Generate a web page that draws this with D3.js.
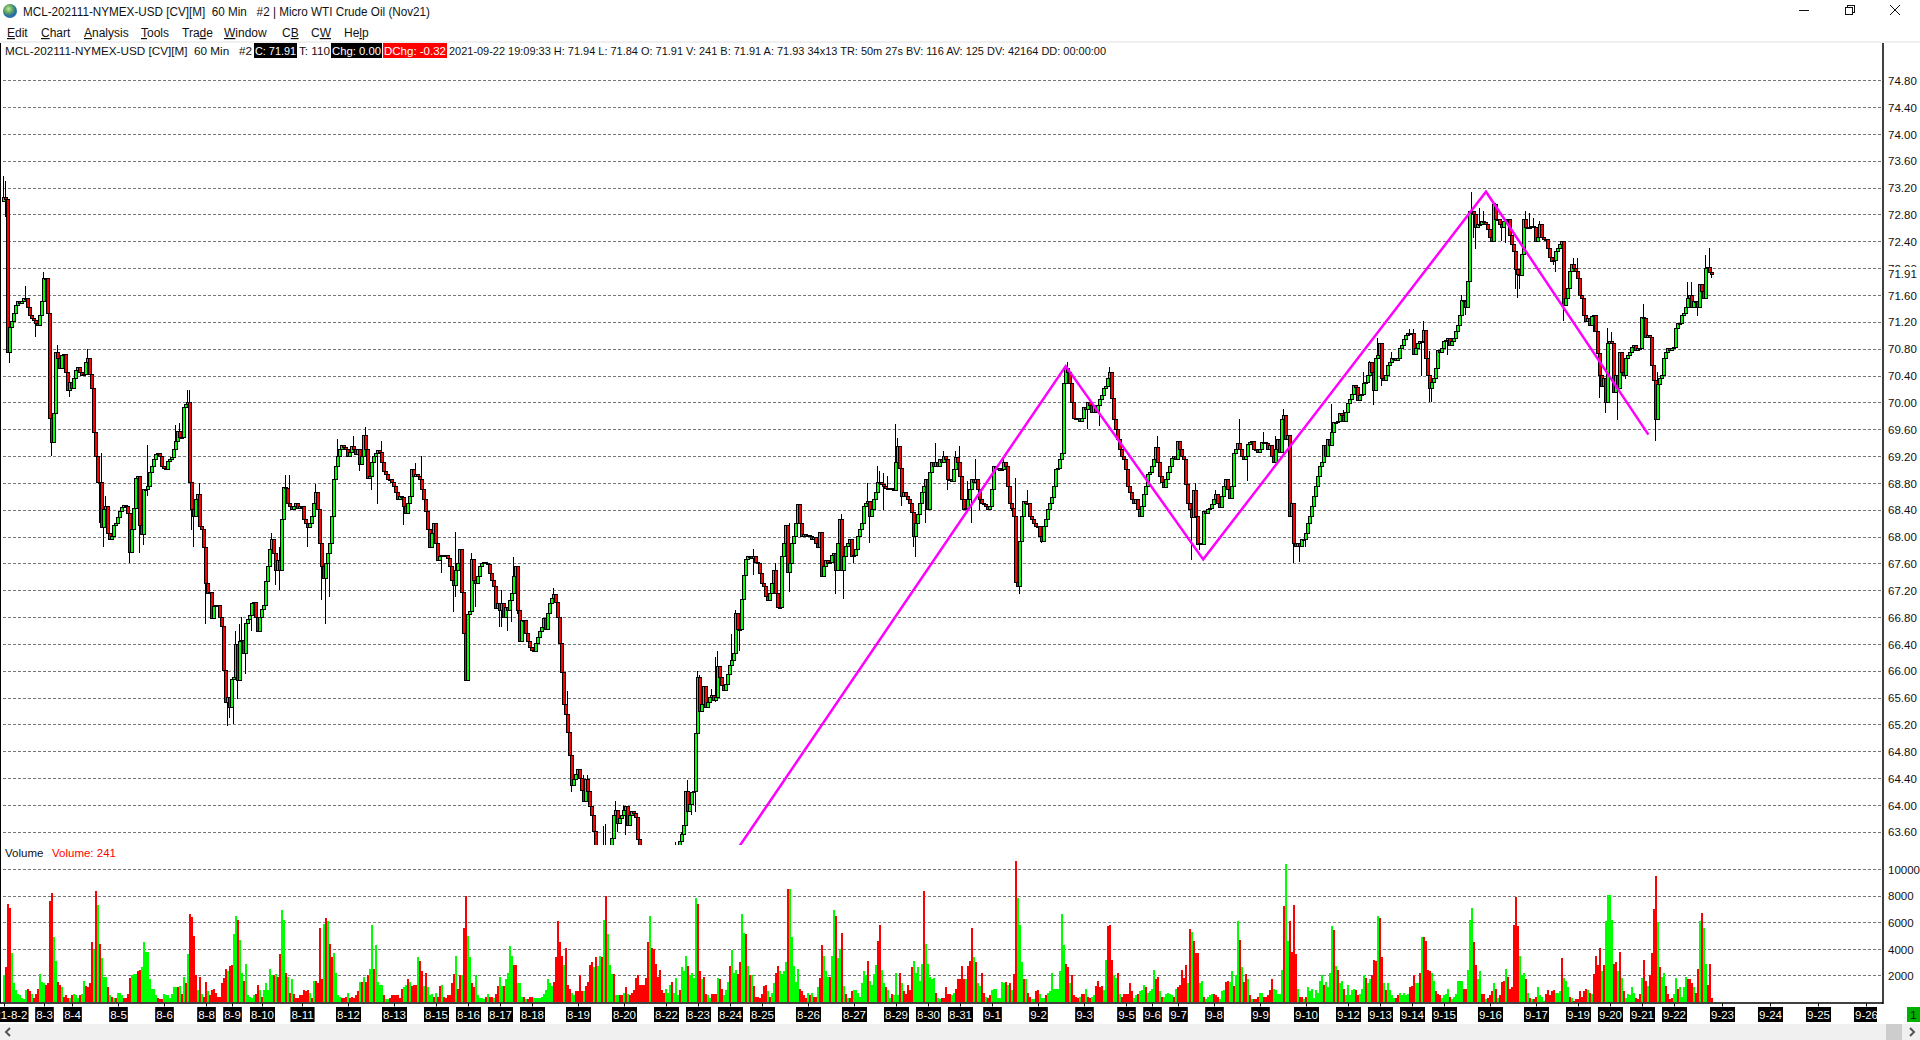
<!DOCTYPE html>
<html>
<head>
<meta charset="utf-8">
<script src="https://cdn.jsdelivr.net/npm/d3@7"></script>
<style>
html, body { margin: 0; padding: 0; background: #fff; overflow: hidden; }
svg { display: block; }
text { font-family: "Liberation Sans", sans-serif; font-size: 11.5px; fill: #111; }
</style>
</head>
<body>
<script>
// session start bar of each label on the time axis
var dayLabels = ["2021-8-2","8-3","8-4","8-5","8-6","8-8","8-9","8-10","8-11","8-12","8-13","8-15","8-16","8-17","8-18","8-19","8-20","8-22","8-23","8-24","8-25","8-26","8-27","8-29","8-30","8-31","9-1","9-2","9-3","9-5","9-6","9-7","9-8","9-9","9-10","9-12","9-13","9-14","9-15","9-16","9-17","9-19","9-20","9-21","9-22","9-23","9-24","9-25","9-26"];
var dayStart = [0,20,34,57,80,101,114,129,149,172,195,216,232,248,264,287,310,331,347,363,379,402,425,446,462,478,494,517,540,561,574,587,605,628,651,672,688,704,720,743,766,787,803,819,835,859,883,907,931];

var priceTicks = [74.8,74.4,74,73.6,73.2,72.8,72.4,72,71.6,71.2,70.8,70.4,70,69.6,69.2,68.8,68.4,68,67.6,67.2,66.8,66.4,66,65.6,65.2,64.8,64.4,64,63.6];
var volumeTicks = [10000,8000,6000,4000,2000];

// hourly closes, one list per label on the time axis
var closesByDay = [
[73.05,73.03,70.75,71.12,71.2,71.32,71.45,71.5,71.48,71.5,71.55,71.55,71.42,71.3,71.25,71.22,71.17,71.15,71.3,71.5],
[71.85,71.85,71.32,69.76,69.4,69.84,70.75,70.65,70.5,70.7,70.72,70.45,70.18,70.3],
[70.2,70.35,70.48,70.52,70.45,70.4,70.42,70.6,70.65,70.42,70.2,69.55,69.2,68.8,68.8,68.13,68.4,68.45,68.05,67.95,68.0,68.16,68.2],
[68.28,68.38,68.43,68.47,68.45,68.35,67.76,68.1,68.42,68.87,68.9,68.16,68.03,68.7,68.7,68.75,68.95,69.05,69.15,69.22,69.24,69.2,69.05],
[69.02,69.0,69.12,69.15,69.18,69.3,69.42,69.57,69.48,69.48,69.93,69.97,70.0,68.8,68.4,68.3,68.55,68.62,68.15,68.1,67.84],
[67.3,67.15,67.17,66.78,66.96,66.98,66.97,66.8,66.66,66.0,65.52,65.6,65.45],
[65.87,65.9,66.39,65.85,66.44,66.45,66.26,66.71,66.76,66.82,67.0,67.02,66.8,66.59,66.8],
[66.92,66.98,67.33,67.55,67.8,67.96,67.75,67.5,67.65,67.5,68.26,68.73,68.72,68.5,68.45,68.4,68.45,68.5,68.42,68.45],
[68.45,68.26,68.2,68.13,68.2,68.3,68.5,68.65,68.4,67.9,67.55,67.37,67.6,67.75,67.9,68.3,68.85,69.05,69.2,69.3,69.35,69.33,69.3],
[69.2,69.25,69.34,69.3,69.22,69.3,69.07,69.2,69.5,69.3,68.87,68.9,69.1,69.2,69.24,69.28,69.25,69.1,68.97,68.92,68.85,68.85,68.8],
[68.75,68.65,68.55,68.6,68.58,68.45,68.35,68.5,68.6,69.0,68.9,68.92,68.9,68.85,68.7,68.55,68.38,68.1,67.84,68.05,68.2],
[67.9,67.65,67.7,67.72,67.7,67.72,67.68,67.55,67.35,67.27,67.5,67.6,67.8,67.17,66.56,65.85],
[66.84,66.88,67.66,67.35,67.3,67.4,67.55,67.6,67.62,67.6,67.58,67.45,67.35,67.25,66.93,67.0],
[66.9,67.0,66.8,66.95,66.9,67.05,67.15,67.4,67.56,66.9,66.44,66.75,66.75,66.56,66.44,66.34],
[66.3,66.29,66.4,66.5,66.58,66.65,66.78,66.62,66.85,67.0,67.08,67.13,67.02,66.8,66.41,65.97,65.5,65.35,65.08,64.73,64.29,64.38,64.45],
[64.53,64.4,64.22,64.05,64.38,64.2,63.97,63.85,63.6,63.4,63.2,63.1,63.05,63.1,63.15,63.2,63.25,63.5,63.85,63.92,63.72,63.8,63.85],
[63.92,63.97,63.7,63.85,63.9,63.88,63.82,63.48,63.35,63.2,63.1,63.0,62.9,62.95,62.85,62.8,62.9,62.85,62.9,62.85,62.9],
[62.95,63.0,62.9,63.0,63.05,63.2,63.3,63.45,63.56,63.7,64.2,63.9,64.0,64.18,64.2,65.06],
[65.9,65.4,65.5,65.77,65.45,65.53,65.6,65.63,65.55,65.6,66.06,65.9,65.78,65.7,65.8,65.95],
[66.08,66.15,66.26,66.86,66.61,66.61,67.06,67.42,67.66,67.7,67.7,67.68,67.7,67.62,67.6,67.45],
[67.3,67.25,67.1,67.05,67.15,67.3,67.5,67.15,66.95,66.95,67.7,67.9,68.16,67.47,67.6,67.9,68.0,68.2,68.48,68.2,68.0,68.03,68.0],
[68.02,68.0,67.95,67.98,67.9,67.84,68.06,67.4,67.55,67.65,67.6,67.62,67.72,67.75,67.5,67.9,68.26,67.5,67.7,67.85,67.9,67.95,67.7],
[67.72,67.8,68.0,68.1,68.2,68.45,68.5,68.52,68.3,68.4,68.55,68.65,68.8,68.8,68.78,68.75,68.72,68.7,68.72,68.7,68.68],
[69.1,69.34,69.02,68.6,68.65,68.6,68.55,68.5,68.36,68.0,68.2,68.33,68.5,68.65,68.75,68.85],
[68.4,68.95,69.1,69.05,69.1,69.05,69.15,69.1,69.2,69.15,68.85,68.85,68.82,69.0,69.18,69.1],
[68.9,68.55,68.4,68.42,68.55,68.7,68.85,68.8,68.85,68.7,68.55,68.5,68.48,68.45,68.4,68.45],
[68.7,69.05,69.0,69.02,68.98,69.0,69.1,69.05,68.75,68.5,68.42,68.3,67.32,67.25,67.93,68.3,68.53,68.5,68.5,68.3,68.25,68.2,68.15],
[68.15,68.0,67.93,68.15,68.25,68.4,68.5,68.58,68.75,69.0,69.02,69.15,69.24,70.28,70.5,70.45,70.28,70.0,69.76,69.75,69.76,69.72,69.76],
[69.93,69.9,70.0,69.95,69.85,69.95,69.85,69.95,70.05,70.1,70.2,70.23,70.35,70.45,70.06,69.74,69.6,69.44,69.3,69.2,69.15],
[69.0,68.75,68.65,68.55,68.5,68.55,68.4,68.3,68.45,68.63,68.75,68.93,68.95],
[69.05,69.15,69.32,69.1,68.9,68.8,68.73,68.85,68.95,69.05,69.17,69.2,69.15],
[69.42,69.3,69.2,69.15,68.78,68.5,68.4,68.28,68.68,68.3,67.88,67.9,67.88,68.38,68.35,68.4,68.42,68.48],
[68.55,68.63,68.5,68.43,68.6,68.75,68.85,68.7,68.57,68.75,69.24,69.3,69.39,69.3,69.2,69.15,69.2,69.37,69.4,69.42,69.3,69.3,69.25],
[69.3,69.4,69.4,69.38,69.3,69.35,69.2,69.1,69.3,69.44,69.25,69.74,69.8,69.45,69.5,68.3,68.5,67.9,67.85,67.9,67.85,67.95,67.95],
[68.05,68.2,68.3,68.45,68.6,68.75,68.9,69.05,69.1,69.35,69.2,69.45,69.35,69.55,69.7,69.7,69.72,69.84,69.8,69.72,69.85],
[69.98,70.05,70.12,70.25,70.22,70.03,70.1,70.12,70.28,70.3,70.4,70.6,70.45,70.18,70.65,70.7],
[70.87,70.35,70.33,70.4,70.55,70.6,70.65,70.65,70.62,70.65,70.8,70.85,70.93,71.0,71.03,71.02],
[71.02,70.72,70.8,70.87,70.9,70.9,71.07,70.65,70.4,70.2,70.3,70.35,70.5,70.77,70.75,70.8],
[70.9,70.92,70.95,70.85,70.9,70.95,71.05,71.15,71.3,71.52,71.5,71.42,71.8,72.85,72.85,72.8,72.6,72.65,72.65,72.7,72.68,72.65,72.58],
[72.45,72.4,72.95,72.73,72.72,72.65,72.6,72.7,72.72,72.72,72.48,72.35,72.25,71.98,71.9,71.89,72.2,72.73,72.6,72.6,72.6,72.62,72.6],
[72.4,72.45,72.65,72.45,72.42,72.42,72.3,72.16,72.1,72.12,72.25,72.3,72.35,72.4,71.44,71.55,71.7,71.95,72.06,72.0,71.95],
[71.85,71.6,71.55,71.3,71.2,71.25,71.15,71.28,71.3,71.05,70.73,70.4,70.23,70.35,70.0,70.87],
[70.9,70.88,70.15,70.4,70.2,70.74,70.45,70.4,70.65,70.7,70.75,70.82,70.85,70.78,70.8,70.8],
[71.26,71.25,70.97,71.0,70.97,70.55,70.33,69.74,70.26,70.35,70.4,70.65,70.75,70.8,70.78,70.8],
[70.82,71.1,71.17,71.18,71.3,71.32,71.42,71.55,71.6,71.42,71.5,71.5,71.42,71.75,71.65,71.55,72.0,72.01,71.93,71.91]
];

// volume in hundreds, one list per label; negative = red bar, positive = green bar
var volumeByDay = [
[20,-26,-74,-71,37,14,9,6,5,3,2,9,-10,-8,6,-3,-6,-10,21,15],
[14,-13,-14,-76,-82,49,31,-15,-13,11,-4,-5,-3,3],
[-5,6,5,3,-5,6,16,-12,-11,-14,-45,39,-84,73,-44,33,19,19,-11,5,-4,3,-3],
[7,7,5,-3,-3,-6,-18,20,21,21,-23,-24,26,45,38,38,17,10,10,5,-3,-2,-2],
[6,5,5,3,6,11,11,-11,12,-6,19,-14,36,-66,-64,-50,-20,9,-19,6,-4],
[-15,8,-5,-9,-10,-7,-4,-4,-14,-18,-25,23,-27],
[-28,51,65,-62,47,22,-16,29,5,4,3,5,-6,-13,9],
[-4,9,14,9,25,20,-20,21,-19,-36,69,62,-22,19,-7,17,-6,-3,-3,-5],
[-5,-9,-8,-9,7,-3,16,-16,-14,-56,-17,59,-63,61,-44,-34,37,22,5,4,-3,-3,-4],
[7,-3,-4,-3,-5,-8,15,-15,19,-15,-20,25,58,-25,43,15,13,13,-5,2,2,-3,-5],
[-5,-5,-5,-3,-10,11,13,-17,15,-12,-13,-13,34,-31,-23,12,-22,11,5,6,-4],
[7,-4,-12,13,-4,-3,-5,-5,-14,-21,35,-10,-20,20,-56,-80],
[50,34,-14,-11,20,5,3,3,2,-4,6,-4,-4,3,-6,-12],
[19,12,-12,17,22,42,35,-28,-28,14,14,4,-4,2,-2,-4],
[-4,3,3,3,3,4,6,9,17,14,12,-15,-34,-61,-45,-35,28,-41,-13,-10,7,5,-8],
[-8,-20,-8,8,-12,-15,-28,-30,26,-34,27,35,-34,62,-80,51,28,21,-21,5,5,-5,-5],
[7,-11,6,-5,-7,-9,-18,-20,-13,-13,-13,-18,-45,65,-41,-40,-29,-19,-24,-9,-7],
[10,7,13,-15,7,18,5,-9,26,23,35,-27,20,22,18,78],
[-74,-23,17,-19,-6,5,3,-6,-6,-6,18,-17,-10,5,9,15],
[-27,39,22,24,-21,-30,66,52,-51,27,-20,20,-12,-4,-4,-3],
[-6,-12,-13,8,-4,7,14,-22,-27,23,21,23,30,-85,85,49,27,15,25,-10,-8,-5,-3],
[7,-5,7,-4,-4,11,-18,-43,35,23,19,-19,35,69,-65,33,40,-52,12,-6,3,-3,-8],
[9,9,7,4,14,23,20,-31,16,13,21,28,-46,-58,24,14,-11,9,3,-6,5],
[22,5,-22,14,-8,-6,-13,-9,-26,31,22,26,16,29,-84,44],
[29,19,17,18,-7,3,2,-3,-3,-11,-6,-6,5,7,-10,-17],
[-17,-27,-17,17,-27,-31,-56,34,-30,14,12,-22,-7,4,-3,-5],
[9,10,10,3,3,15,14,-15,13,-14,9,-21,-106,78,58,30,-17,17,-7,-4,2,2,-8],
[-9,6,3,3,-5,7,8,22,10,10,10,23,66,43,-29,-26,14,-20,-5,-4,-3,4,-6],
[-6,10,-4,-3,4,5,-12,-16,-11,-12,9,32,-57,-58,-32,20,18,-22,6,-4,-6],
[-6,-6,-14,-8,3,5,-6,8,9,13,-11,7,8],
[10,24,-17,-19,8,-4,4,6,7,6,5,-4,10],
[-11,-13,-24,-18,-28,14,-55,53,-46,-37,-37,14,16,-4,2,4,5,6],
[-6,-5,-4,2,8,9,-15,-16,15,23,-12,20,61,-47,26,-15,-21,17,-5,2,-2,-2,-4],
[7,7,-4,-4,-5,-9,-17,10,9,6,6,24,-72,104,46,-61,-38,-73,-36,10,-4,-4,2],
[-4,11,8,10,3,9,7,16,20,-13,15,11,22,57,-54,27,-24,14,16,-10,5],
[13,5,9,10,-9,-5,6,10,20,-18,14,17,-20,-32,-31,65],
[-63,-34,14,-9,14,9,5,3,-3,-5,7,5,7,5,6,-11],
[-12,-20,14,14,-22,49,-49,-46,-24,-23,22,16,-8,-6,-5,3],
[5,6,10,-4,2,4,6,16,16,16,-10,-10,24,62,71,-45,-28,17,23,-6,-6,2,-3],
[-5,-8,14,-10,3,-5,-15,-16,25,-19,-10,-11,-58,-79,-57,35,20,22,-17,7,-3,2,-2],
[-4,11,5,4,1,-6,-9,-5,-8,-9,7,7,8,-33,18,16,11,-4,3,-1,-2],
[-2,-8,-4,-8,-10,9,-7,6,-21,-35,-28,-41,23,-28,61,81],
[81,62,-29,-30,23,-38,18,-8,3,6,5,11,7,-3,-2,-6],
[18,-32,-16,12,-20,-37,-70,-95,60,-26,19,22,-12,-6,-2,-3],
[6,18,-10,11,4,11,19,-17,-17,-14,11,-7,-25,61,-67,56,29,-13,-29,-3]
];

var highBars = [0,1,11,20,27,42,47,49,51,72,86,88,92,93,98,116,118,119,127,134,138,141,143,156,167,175,181,189,206,209,226,234,249,255,259,270,273,275,282,285,290,292,300,301,304,306,310,313,336,338,339,342,347,348,354,356,357,364,366,375,386,393,416,419,422,432,437,438,440,442,446,447,466,470,476,478,482,486,487,500,506,512,532,553,577,585,596,606,618,630,636,640,664,670,675,680,683,687,694,703,705,710,713,729,734,738,740,746,761,763,765,768,785,787,802,804,820,827,842,844,851,853,854];
var highVals = [73.37,73.3,71.73,71.95,70.85,70.8,69.37,69.25,68.6,69.37,69.66,69.7,70.18,70.18,68.8,66.6,66.7,66.8,66.9,68.06,67.85,68.92,68.92,68.78,69.45,69.5,69.64,69.42,69.1,69.2,68.07,67.75,67.2,67.7,66.77,66.75,67.0,67.23,65.7,64.6,64.45,64.45,63.69,63.71,63.45,64.06,64.0,63.95,63.45,63.45,63.6,64.37,66.0,65.93,65.73,66.2,66.3,66.55,66.9,67.82,67.6,68.2,67.75,68.33,67.85,68.8,69.05,68.97,68.95,68.9,69.68,69.47,69.4,69.27,69.27,69.35,68.83,69.15,68.85,69.17,68.87,68.7,70.6,70.53,69.5,69.2,68.8,68.7,69.75,69.56,69.5,69.9,69.97,69.88,70.2,70.45,70.62,70.96,70.75,71.1,71.1,71.22,70.77,71.6,73.13,72.9,72.85,72.97,72.85,72.82,72.75,72.7,72.15,72.15,71.11,71.05,71.47,70.45,71.8,71.8,72.2,72.3,71.95];
var lowBars = [1,3,16,24,33,48,50,63,68,70,72,94,95,101,112,113,115,117,121,124,136,138,152,159,161,163,178,184,187,200,219,225,226,236,248,249,252,254,257,284,307,311,344,346,356,358,361,367,368,375,393,416,420,425,433,440,446,449,455,456,461,472,484,488,504,508,519,542,548,594,598,600,622,645,648,651,685,689,709,713,714,722,731,735,736,749,751,756,757,758,775,776,780,795,798,801,807,811,826,847,854];
var lowVals = [72.76,70.59,70.98,69.2,70.08,68.2,67.85,67.6,67.76,67.88,68.6,68.1,67.84,66.7,65.18,65.3,65.2,65.58,65.95,66.6,67.28,67.2,67.85,67.05,66.7,67.1,68.98,68.7,68.48,68.17,67.45,66.88,67.1,66.95,66.65,66.65,66.6,66.72,66.85,64.2,63.6,63.55,63.85,63.9,65.53,65.65,65.7,66.3,66.3,67.42,67.17,67.15,67.07,67.6,67.9,68.4,68.92,68.45,67.85,67.7,68.2,68.7,68.2,68.4,68.38,67.15,67.9,69.6,69.65,67.65,67.8,67.97,68.83,67.6,67.62,67.85,69.96,70.25,70.4,70.0,70.0,70.7,71.3,72.45,72.28,72.4,72.38,71.69,71.56,71.69,72.05,71.95,71.22,71.05,70.06,69.84,69.73,70.35,69.42,71.28,71.85];

// magenta zigzag drawn on the chart: bar number and price of each corner
var zigzagBars = [340,530.85,599.6,741,822.2];
var zigzagPrices = [62.17,70.54,67.66,73.14,69.52];

var menuItems = ["Edit","Chart","Analysis","Tools","Trade","Window","CB","CW","Help"];
var menuKeys = [0,0,0,0,3,0,1,1,2];   // underlined letter
var menuLeft = [7,41,84,141,182,224,282,311,344];

var width = 1920;
var height = 1040;
var axisX = 1883;

var svg = d3.select("body").append("svg").attr("width", width).attr("height", height);

// scales
var x = d3.scaleLinear().domain([0, 931]).range([4, 1866]);
var yPrice = d3.scaleLinear().domain([63.6, 74.8]).range([831.8, 80.3]);
var yVolume = d3.scaleLinear().domain([0, 10000]).range([1002, 869.3]);

// flatten lists into bars, each placed from the start of its label
var highOf = {}, lowOf = {};
highBars.forEach(function (b, k) { highOf[b] = highVals[k]; });
lowBars.forEach(function (b, k) { lowOf[b] = lowVals[k]; });

var bars = [], volumes = [];
var prev = 73.0;
closesByDay.forEach(function (list, d) {
    list.forEach(function (c, j) {
        var i = dayStart[d] + j;
        var high = Math.max(prev, c, highOf[i] || 0);
        var low = Math.min(prev, c, lowOf[i] || 999);
        bars.push({ i: i, open: prev, close: c, high: high, low: low });
        prev = c;
    });
});
volumeByDay.forEach(function (list, d) {
    list.forEach(function (v, j) {
        volumes.push({ i: dayStart[d] + j, v: Math.abs(v) * 100, up: v > 0 });
    });
});

// clip for the price pane, price runs off the bottom of it
svg.append("defs").append("clipPath").attr("id", "pricePane")
    .append("rect").attr("x", 0).attr("y", 44).attr("width", axisX).attr("height", 801);
svg.append("defs").append("clipPath").attr("id", "timePane")
    .append("rect").attr("x", 0).attr("y", 1003).attr("width", axisX - 6).attr("height", 21);

// axes with their dashed grid
var priceAxis = d3.axisRight(yPrice).tickValues(priceTicks).tickSize(0).tickPadding(5).tickFormat(d3.format(".2f"));
var volumeAxis = d3.axisRight(yVolume).tickValues(volumeTicks).tickSize(0).tickPadding(5).tickFormat(d3.format("d"));

function addAxis(axis, ticks, scale) {
    var g = svg.append("g").attr("transform", "translate(" + axisX + ",0)").call(axis);
    g.select(".domain").remove();
    g.selectAll("text").attr("dy", "0.36em").style("font-family", null).style("font-size", null);
    svg.insert("g", ":first-child").attr("shape-rendering", "crispEdges").selectAll("line").data(ticks).join("line")
        .attr("x1", 3).attr("x2", axisX)
        .attr("y1", function (d) { return Math.round(scale(d)) + 0.5; })
        .attr("y2", function (d) { return Math.round(scale(d)) + 0.5; })
        .attr("stroke", "#777").attr("stroke-dasharray", "3,2");
    return g;
}
var priceG = addAxis(priceAxis, priceTicks, yPrice);
addAxis(volumeAxis, volumeTicks, yVolume);

// candles
var candleG = svg.append("g").attr("clip-path", "url(#pricePane)").attr("shape-rendering", "crispEdges");
var candle = candleG.selectAll("g").data(bars).join("g");
candle.append("line")
    .attr("x1", function (d) { return Math.round(x(d.i)) - 0.5; })
    .attr("x2", function (d) { return Math.round(x(d.i)) - 0.5; })
    .attr("y1", function (d) { return yPrice(d.high); })
    .attr("y2", function (d) { return yPrice(d.low); })
    .attr("stroke", "#000");
candle.append("rect")
    .attr("x", function (d) { return Math.round(x(d.i)) - 1.5; })
    .attr("width", 3)
    .attr("y", function (d) { return yPrice(Math.max(d.open, d.close)); })
    .attr("height", function (d) { return Math.max(1, Math.abs(yPrice(d.open) - yPrice(d.close))); })
    .attr("fill", function (d) { return d.close >= d.open ? "#00ff00" : "#ff0000"; })
    .attr("stroke", "#000");

// zigzag
var zigzag = d3.line()
    .x(function (d) { return x(d[0]); })
    .y(function (d) { return yPrice(d[1]); });
svg.append("path").attr("clip-path", "url(#pricePane)")
    .attr("d", zigzag(d3.zip(zigzagBars, zigzagPrices)))
    .attr("fill", "none").attr("stroke", "#ff00ff").attr("stroke-width", 2.5);

// volume bars
svg.append("g").attr("shape-rendering", "crispEdges").selectAll("rect").data(volumes).join("rect")
    .attr("x", function (d) { return Math.round(x(d.i)) - 1; })
    .attr("width", 2)
    .attr("y", function (d) { return yVolume(d.v); })
    .attr("height", function (d) { return yVolume(0) - yVolume(d.v); })
    .attr("fill", function (d) { return d.up ? "#00ff00" : "#ff0000"; });

// time axis, labels in black boxes
var timeAxis = d3.axisBottom(x).tickValues(dayStart)
    .tickFormat(function (d) { return dayLabels[dayStart.indexOf(d)]; })
    .tickSize(3).tickPadding(7);
var timeG = svg.append("g").attr("clip-path", "url(#timePane)").append("g")
    .attr("transform", "translate(0,1003.5)").call(timeAxis);
timeG.select(".domain").remove();
timeG.selectAll(".tick text").style("font-family", null).style("font-size", null).style("fill", "#fff")
    .attr("y", 15).attr("dy", 0).each(function () {
        var w = this.getComputedTextLength() + 2;
        d3.select(this.parentNode).insert("rect", "text")
            .attr("x", -w / 2).attr("y", 3.5).attr("width", w).attr("height", 15).attr("fill", "#000");
    });

// pane frame
svg.append("line").attr("x1", 0.5).attr("x2", 0.5).attr("y1", 43).attr("y2", 1003).attr("stroke", "#000");
svg.append("line").attr("x1", axisX).attr("x2", axisX).attr("y1", 43).attr("y2", 1004).attr("stroke", "#000").attr("stroke-width", 1.5);
svg.append("line").attr("x1", 0).attr("x2", axisX).attr("y1", 1003).attr("y2", 1003).attr("stroke", "#000").attr("stroke-width", 1.5);

// last price label over the 72.00 tick
svg.append("rect").attr("x", axisX + 2).attr("y", 267).attr("width", 32).attr("height", 14).attr("fill", "#fff");
svg.append("text").attr("x", axisX + 5).attr("y", yPrice(71.91)).attr("dy", "0.36em").text("71.91");

// window title and menu
svg.append("rect").attr("x", 0).attr("y", 41).attr("width", width).attr("height", 2).attr("fill", "#f0f0f0");
var globe = svg.append("defs").append("radialGradient").attr("id", "globe").attr("cx", "40%").attr("cy", "35%");
globe.append("stop").attr("offset", "0%").attr("stop-color", "#bfe8a8");
globe.append("stop").attr("offset", "60%").attr("stop-color", "#5fa65a");
globe.append("stop").attr("offset", "100%").attr("stop-color", "#2b6ea8");
svg.append("circle").attr("cx", 10).attr("cy", 11).attr("r", 7).attr("fill", "url(#globe)");
svg.append("text").attr("x", 23).attr("y", 16)
    .attr("textLength", 407).attr("lengthAdjust", "spacingAndGlyphs").style("font-size", "12.5px")
    .text("MCL-202111-NYMEX-USD [CV][M]\u00a0\u00a060 Min\u00a0\u00a0\u00a0#2 | Micro WTI Crude Oil (Nov21)");

menuItems.forEach(function (m, k) {
    var t = svg.append("text").attr("x", menuLeft[k]).attr("y", 37).style("font-size", "12px");
    t.append("tspan").text(m.slice(0, menuKeys[k]));
    t.append("tspan").attr("text-decoration", "underline").text(m.charAt(menuKeys[k]));
    t.append("tspan").text(m.slice(menuKeys[k] + 1));
});

// window buttons
var btn = svg.append("g").attr("stroke", "#111").attr("fill", "none").attr("shape-rendering", "crispEdges");
btn.append("line").attr("x1", 1799).attr("x2", 1809).attr("y1", 10.5).attr("y2", 10.5);
btn.append("rect").attr("x", 1845.5).attr("y", 7.5).attr("width", 7).attr("height", 7);
btn.append("path").attr("d", "M1847.5,7.5V5.5H1854.5V12.5H1852.5");
var closeBtn = svg.append("g").attr("stroke", "#111");
closeBtn.append("line").attr("x1", 1890).attr("x2", 1900).attr("y1", 5).attr("y2", 15);
closeBtn.append("line").attr("x1", 1900).attr("x2", 1890).attr("y1", 5).attr("y2", 15);

// info line: left edge, width, background, text
var infoLeft = [5,254,299,331,383,449];
var infoWidth = [247,43,31,51,64,657];
var infoBoxes = [null,"#000",null,"#000","#ff0000",null];
var infoTexts = ["MCL-202111-NYMEX-USD [CV][M]\u00a0\u00a060 Min\u00a0\u00a0\u00a0#2","C: 71.91","T: 110","Chg: 0.00","DChg: -0.32","2021-09-22 19:09:33 H: 71.94 L: 71.84 O: 71.91 V: 241 B: 71.91 A: 71.93 34x13 TR: 50m 27s BV: 116 AV: 125 DV: 42164 DD: 00:00:00"];
infoTexts.forEach(function (s, k) {
    if (infoBoxes[k]) {
        svg.append("rect").attr("x", infoLeft[k]).attr("y", 43).attr("width", infoWidth[k]).attr("height", 15).attr("fill", infoBoxes[k]);
    }
    var pad = infoBoxes[k] ? 1 : 0;
    svg.append("text").attr("x", infoLeft[k] + pad).attr("y", 55)
        .attr("textLength", infoWidth[k] - pad * 2).attr("lengthAdjust", "spacingAndGlyphs")
        .style("fill", infoBoxes[k] ? "#fff" : "#111").text(s);
});

// volume legend
svg.append("text").attr("x", 5).attr("y", 857).text("Volume");
svg.append("text").attr("x", 52).attr("y", 857).style("fill", "#ff0000").text("Volume: 241");

// bottom scrollbar and page tab
svg.append("rect").attr("x", 0).attr("y", 1024).attr("width", width).attr("height", 16).attr("fill", "#f0f0f0");
svg.append("rect").attr("x", 1886).attr("y", 1024).attr("width", 16).attr("height", 16).attr("fill", "#cdcdcd");
svg.append("path").attr("d", "M10,1028L6,1032L10,1036").attr("fill", "none").attr("stroke", "#555").attr("stroke-width", 2);
svg.append("path").attr("d", "M1910,1028L1914,1032L1910,1036").attr("fill", "none").attr("stroke", "#555").attr("stroke-width", 2);
svg.append("rect").attr("x", 1907).attr("y", 1007).attr("width", 13).attr("height", 15).attr("fill", "#00b000");
svg.append("text").attr("x", 1913.5).attr("y", 1019).attr("text-anchor", "middle").text("1");
</script>
</body>
</html>
